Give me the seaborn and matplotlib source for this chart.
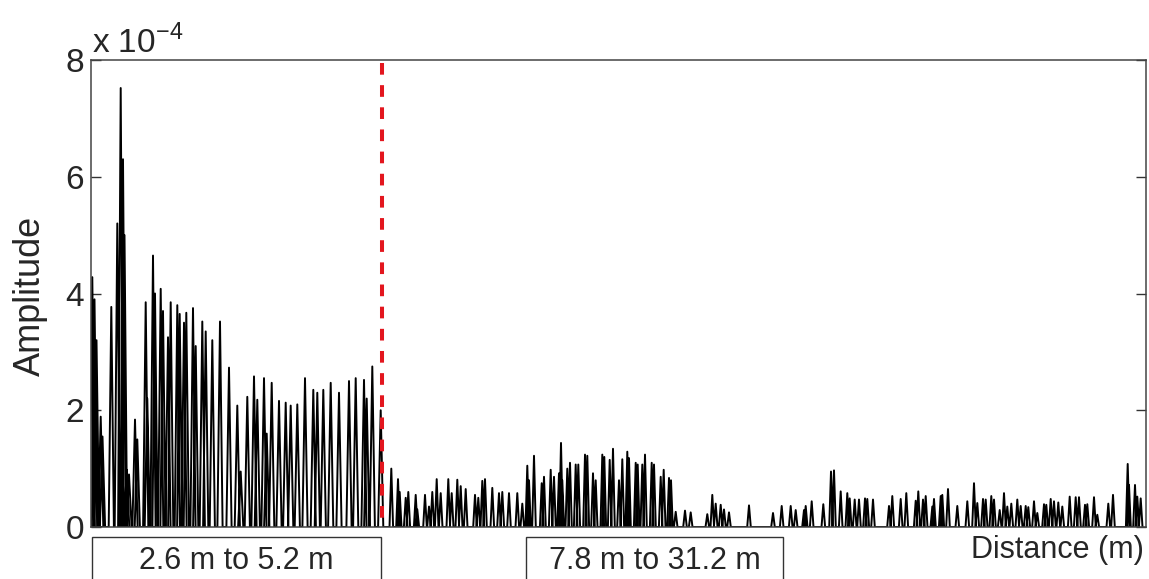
import matplotlib
matplotlib.use("Agg")
import matplotlib.pyplot as plt
import matplotlib.transforms as mtransforms
import numpy as np
import pandas as pd
import seaborn as sns
from matplotlib.patches import Rectangle

# echo peaks: position along the axis (bins) and amplitude (x 1e-4)
near_pos = [1.3, 3.5, 5.5, 9.7, 11.5, 20.3, 26.3, 29.7, 32.0, 33.5, 35.7, 38.0,
            44.0, 46.3, 54.7, 56.3, 62.0, 64.0, 69.7, 72.0, 77.0, 79.7, 86.3, 88.7,
            93.0, 95.3, 102.0, 104.7, 111.3, 114.7, 121.3, 129.0, 138.0, 146.3,
            149.7, 156.3, 163.0, 166.3, 173.0, 175.7, 180.7, 188.0, 194.7, 199.7,
            206.3, 214.0, 222.3, 226.3, 232.3, 239.7, 248.0, 258.0, 264.7, 273.0,
            275.7, 281.3, 289.7]
near_amp = [4.28, 3.9, 3.2, 1.89, 1.55, 3.77, 5.2, 7.52, 6.3, 5.0, 0.98, 0.9,
            1.84, 1.5, 3.85, 2.2, 4.65, 4.0, 4.08, 3.7, 3.25, 3.85, 3.8, 3.65,
            3.5, 3.67, 3.75, 3.1, 3.52, 3.35, 3.2, 3.52, 2.73, 2.08,
            0.95, 2.23, 2.58, 2.18, 2.55, 1.6, 2.47, 2.16, 2.13, 2.08,
            2.1, 2.55, 2.35, 2.3, 2.35, 2.47, 2.3, 2.5, 2.55, 2.52,
            2.2, 2.75, 2.0]

far_pos = [300.3, 307.0, 308.7, 314.7, 317.3, 324.7, 326.3, 334.0, 338.0, 341.3,
           345.7, 349.7, 357.3, 360.7, 366.3, 369.7, 374.7, 384.0, 387.3, 391.3,
           394.0, 401.3, 408.0, 411.3, 418.0, 426.3, 431.3, 436.3, 438.0, 443.0,
           450.7, 453.0, 459.7, 463.0, 468.0, 470.0, 471.3, 476.3, 479.0, 484.7,
           487.3, 494.0, 496.3, 502.0, 504.7, 511.3, 513.3, 518.7, 522.0, 528.0,
           531.3, 536.3, 538.0, 544.7, 546.7, 551.3, 554.0, 560.7, 563.0, 569.7,
           572.7, 578.0, 580.0, 584.7, 594.0, 599.7, 616.3, 621.3, 624.7, 629.7,
           633.0, 638.0, 658.0, 682.0, 690.7, 699.7, 704.7, 713.0, 714.7, 720.7,
           732.3, 740.0, 743.0, 749.7, 756.3, 758.7, 763.7, 768.0, 774.0, 776.3,
           782.0, 798.0, 801.3, 809.7, 815.3, 824.7, 827.3, 832.0, 834.7, 841.3,
           843.0, 849.7, 851.3, 857.0, 866.3, 876.3, 883.0, 886.3, 892.0, 894.7,
           900.3, 903.0, 908.7, 913.0, 916.3, 920.3, 926.3, 929.7, 934.7, 937.3,
           943.0, 946.3, 953.0, 955.3, 959.7, 963.0, 967.3, 971.3, 978.7, 984.7,
           988.0, 994.0, 996.3, 1003.0, 1006.3, 1017.3, 1022.0, 1036.7, 1038.0,
           1044.0, 1046.3, 1049.7]
far_amp = [1.0, 0.82, 0.6, 0.5, 0.6, 0.55, 0.3, 0.55, 0.35, 0.6,
           0.82, 0.58, 0.82, 0.58, 0.81, 0.7, 0.65, 0.55, 0.5, 0.79,
           0.82, 0.67, 0.58, 0.6, 0.58, 0.58, 0.4, 1.05, 0.8, 1.22,
           0.75, 0.86, 0.98, 0.86, 0.92, 1.44, 0.8, 1.0, 1.1, 1.07,
           1.07, 1.24, 1.22, 0.92, 0.8, 1.24, 1.2, 1.15, 1.34, 0.8,
           1.16, 1.29, 1.18, 1.1, 1.07, 1.07, 1.24, 1.1, 1.07, 0.86,
           0.98, 0.84, 0.8, 0.26, 0.28, 0.25, 0.22, 0.55, 0.4, 0.38,
           0.3, 0.25, 0.37, 0.24, 0.36, 0.36, 0.29, 0.29, 0.36, 0.44,
           0.39, 0.95, 0.97, 0.61, 0.58, 0.49, 0.47, 0.47, 0.49, 0.48,
           0.47, 0.36, 0.53, 0.48, 0.58, 0.45, 0.61, 0.47, 0.53, 0.35,
           0.48, 0.53, 0.55, 0.65, 0.36, 0.44, 0.75, 0.41, 0.48, 0.47,
           0.53, 0.47, 0.29, 0.58, 0.35, 0.4, 0.47, 0.36, 0.36, 0.34,
           0.44, 0.24, 0.39, 0.38, 0.48, 0.44, 0.42, 0.35, 0.52, 0.51,
           0.51, 0.38, 0.39, 0.51, 0.21, 0.4, 0.55, 1.08, 0.72,
           0.72, 0.52, 0.49]

boundary = 290.7            # end of the 2.6-5.2 m section
near_span = (1.0, 290.0)
far_span = (435.0, 692.0)
y_ticks = [0, 2, 4, 6, 8]


def spike_trace(pos, amp, half_width):
    xs, ys = [], []
    for p, a in zip(pos, amp):
        xs += [p - half_width, p, p + half_width]
        ys += [0.0, a, 0.0]
    return xs, ys


xn, yn = spike_trace(near_pos, near_amp, 2.6)
xf, yf = spike_trace(far_pos, far_amp, 1.8)
trace = pd.DataFrame({"distance": xn + xf, "amplitude": yn + yf})

sns.set_style("white")
plt.rcParams["font.family"] = ["Liberation Sans", "DejaVu Sans"]

fig = plt.figure(figsize=(11.49, 5.79), dpi=100)
ax = fig.add_axes([91 / 1149, 52 / 579, 1055 / 1149, 467 / 579])

sns.lineplot(data=trace, x="distance", y="amplitude", sort=False,
             estimator=None, color="black", linewidth=1.4, ax=ax)
ax.plot([boundary, boundary], [7.95, 0.05], color="#e3161e",
        linewidth=2.9, dashes=(2.9, 2.6), zorder=3)

ax.set_xlim(0, 1055)
ax.set_ylim(0, 8)
ax.set_xticks([])
ax.set_yticks(y_ticks)
ax.set_yticklabels([str(t) for t in y_ticks])
ax.set_xlabel("")
ax.set_ylabel("")
ax.tick_params(axis="y", direction="in", length=7, width=1.0, left=True,
               right=True, labelsize=24, pad=5, color="#333333")
for side in ax.spines.values():
    side.set_color("#444444")
    side.set_linewidth(1.1)

fig.text(92 / 1149, 1 - 53 / 579, "x 10$^{\\mathregular{-4}}$", fontsize=24,
         ha="left", va="baseline")
fig.text(30 / 1149, 1 - 296 / 579, "Amplitude", fontsize=26, rotation=90,
         ha="center", va="center")
fig.text(1144 / 1149, 1 - 550 / 579, "Distance (m)", fontsize=22,
         ha="right", va="center")

# range boxes hanging under the axis
blend = mtransforms.blended_transform_factory(ax.transData, fig.transFigure)
box_top = 1 - 537 / 579
for (lo, hi), label in [(near_span, "2.6 m to 5.2 m"), (far_span, "7.8 m to 31.2 m")]:
    fig.add_artist(Rectangle((lo, -0.1), hi - lo, box_top + 0.1, transform=blend,
                             fill=False, edgecolor="#333333", linewidth=1.0,
                             clip_on=False))
    fig.text((lo + hi) / 2, 1 - 561 / 579, label, transform=blend, fontsize=22,
             ha="center", va="center")

fig.savefig("out.png", dpi=100)
